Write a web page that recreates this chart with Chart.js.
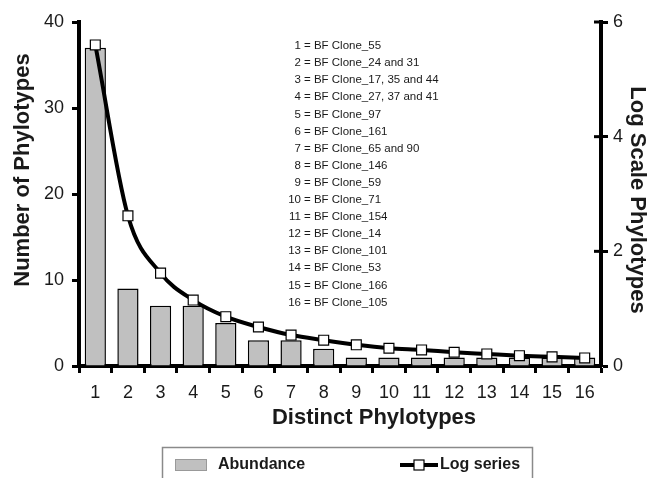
<!DOCTYPE html>
<html><head><meta charset="utf-8">
<script src="https://cdn.jsdelivr.net/npm/chart.js@4.4.1/dist/chart.umd.min.js"></script>
<style>html,body{margin:0;padding:0;background:#fff}#wrap{width:653px;height:478px;position:relative}</style>
</head><body><div id="wrap"><canvas id="c" width="653" height="478"></canvas></div>
<script>
const categories = ['1','2','3','4','5','6','7','8','9','10','11','12','13','14','15','16'];
const abundance = [37,9,7,7,5,3,3,2,1,1,1,1,1,1,1,1];
const logSeries = [5.60,2.62,1.62,1.15,0.86,0.68,0.54,0.45,0.37,0.31,0.28,0.24,0.21,0.18,0.16,0.14];
const cloneNames = ['BF Clone_55','BF Clone_24 and 31','BF Clone_17, 35 and 44','BF Clone_27, 37 and 41','BF Clone_97','BF Clone_161','BF Clone_65 and 90','BF Clone_146','BF Clone_59','BF Clone_71','BF Clone_154','BF Clone_14','BF Clone_101','BF Clone_53','BF Clone_166','BF Clone_105'];
const xTitle = 'Distinct Phylotypes';
const yTitle = 'Number of Phylotypes';
const y2Title = 'Log Scale Phylotypes';
const seriesNames = ['Abundance','Log series'];

const FAM = "'Liberation Sans', Arial, Helvetica, sans-serif";
const TXT = '#1a1a1a';

const overlay = {
  id:'overlay',
  afterDraw(chart){
    const ctx = chart.ctx, a = chart.chartArea;
    ctx.save();
    // inner ticks of right axis
    const y2 = chart.scales.y2;
    ctx.strokeStyle='#000'; ctx.lineWidth=3;
    y2.ticks.forEach(t=>{
      const py = y2.getPixelForValue(t.value);
      ctx.beginPath(); ctx.moveTo(a.right-7,py); ctx.lineTo(a.right,py); ctx.stroke();
    });
    // clone list
    ctx.fillStyle=TXT; ctx.font='11.5px '+FAM; ctx.textBaseline='middle';
    cloneNames.forEach((n,i)=>{
      const yy = 46 + i*17.1;
      ctx.textAlign='right'; ctx.fillText(String(i+1), 301, yy);
      ctx.textAlign='left'; ctx.fillText('= '+n, 304, yy);
    });
    // axis titles
    ctx.font='bold 22px '+FAM; ctx.textAlign='center'; ctx.textBaseline='alphabetic';
    ctx.fillText(xTitle, 374, 424);
    ctx.save(); ctx.translate(29,170); ctx.rotate(-Math.PI/2); ctx.fillText(yTitle,0,0); ctx.restore();
    ctx.save(); ctx.translate(631,200); ctx.rotate(Math.PI/2); ctx.fillText(y2Title,0,0); ctx.restore();
    // legend
    ctx.strokeStyle='#8a8a8a'; ctx.lineWidth=1.5;
    ctx.strokeRect(162.5,447.5,370,40);
    ctx.fillStyle='#c0c0c0'; ctx.fillRect(175,459,32,12);
    ctx.strokeStyle='#999'; ctx.lineWidth=1; ctx.strokeRect(175.5,459.5,31,11);
    ctx.fillStyle=TXT; ctx.font='bold 16px '+FAM; ctx.textAlign='left'; ctx.textBaseline='middle';
    ctx.fillText(seriesNames[0], 218, 465);
    ctx.strokeStyle='#000'; ctx.lineWidth=4;
    ctx.beginPath(); ctx.moveTo(400,465); ctx.lineTo(438,465); ctx.stroke();
    ctx.fillStyle='#fff'; ctx.fillRect(414,460,10,10);
    ctx.lineWidth=1.2; ctx.strokeRect(414,460,10,10);
    ctx.fillStyle=TXT; ctx.fillText(seriesNames[1], 440, 465);
    ctx.restore();
  }
};

new Chart(document.getElementById('c'), {
  type:'bar',
  data:{
    labels:categories,
    datasets:[
      {type:'line', label:seriesNames[1], data:logSeries, yAxisID:'y2', borderColor:'#000', borderWidth:4,
       pointStyle:'rect', pointRadius:7, pointBackgroundColor:'#fff', pointBorderColor:'#000', pointBorderWidth:1.2,
       cubicInterpolationMode:'monotone', order:0},
      {type:'bar', label:seriesNames[0], data:abundance, yAxisID:'y', backgroundColor:'#c0c0c0', borderColor:'#000',
       borderWidth:1.5, barPercentage:0.65, categoryPercentage:1, order:1}
    ]
  },
  options:{
    responsive:false, animation:false,
    layout:{padding:{left:0,right:0,top:22,bottom:0}},
    plugins:{legend:{display:false}, tooltip:{enabled:false}},
    scales:{
      x:{grid:{drawOnChartArea:false, offset:true, tickLength:7, tickWidth:3, tickColor:'#000'},
         border:{color:'#000', width:4},
         ticks:{font:{size:18,family:FAM}, color:TXT, padding:9, maxRotation:0},
         afterFit:(s)=>{s.height=112;}},
      y:{position:'left', min:0, max:40,
         grid:{drawOnChartArea:false, tickLength:7, tickWidth:3, tickColor:'#000'},
         border:{color:'#000', width:4},
         ticks:{stepSize:10, font:{size:18,family:FAM}, color:TXT, padding:8},
         afterFit:(s)=>{s.width=79;}},
      y2:{position:'right', min:0, max:6,
         grid:{drawOnChartArea:false, tickLength:7, tickWidth:3, tickColor:'#000'},
         border:{color:'#000', width:4},
         ticks:{stepSize:2, font:{size:18,family:FAM}, color:TXT, padding:5},
         afterFit:(s)=>{s.width=52;}}
    }
  },
  plugins:[overlay]
});
</script></body></html>
